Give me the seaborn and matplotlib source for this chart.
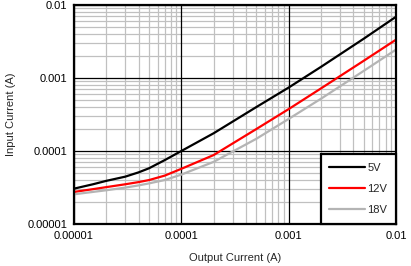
import numpy as np
import pandas as pd
import matplotlib
matplotlib.use("Agg")
import matplotlib.pyplot as plt
import seaborn as sns
from matplotlib.ticker import LogLocator, FixedLocator, FixedFormatter, NullFormatter

output_current = [1e-5, 1.5e-5, 2e-5, 3e-5, 4e-5, 5e-5, 7e-5, 1e-4, 2e-4, 5e-4, 1e-3, 2e-3, 5e-3, 1e-2]
input_5v = [3.05e-5, 3.5e-5, 3.9e-5, 4.45e-5, 5.1e-5, 5.8e-5, 7.5e-5, 1.0e-4, 1.75e-4, 4.0e-4, 7.4e-4, 1.42e-3, 3.45e-3, 6.9e-3]
input_12v = [2.75e-5, 3.0e-5, 3.2e-5, 3.5e-5, 3.75e-5, 4.0e-5, 4.6e-5, 5.7e-5, 8.8e-5, 2.0e-4, 3.75e-4, 7.2e-4, 1.72e-3, 3.35e-3]
input_18v = [2.55e-5, 2.75e-5, 2.9e-5, 3.15e-5, 3.38e-5, 3.6e-5, 4.0e-5, 4.75e-5, 7.1e-5, 1.47e-4, 2.75e-4, 5.2e-4, 1.25e-3, 2.45e-3]
series_names = ["5V", "12V", "18V"]
series_colors = ["#000000", "#ff0000", "#b4b4b4"]
tick_values = [1e-5, 1e-4, 1e-3, 1e-2]
tick_labels = ["0.00001", "0.0001", "0.001", "0.01"]

df = pd.DataFrame({
    "x": output_current * 3,
    "y": input_5v + input_12v + input_18v,
    "series": [series_names[0]] * len(output_current)
              + [series_names[1]] * len(output_current)
              + [series_names[2]] * len(output_current),
})

sns.set_style("white")
plt.rcParams["font.family"] = ["Liberation Sans", "DejaVu Sans"]

fig = plt.figure(figsize=(4.11, 2.66), dpi=100)
ax = fig.add_axes([74 / 411, 1 - 224 / 266, (396 - 74) / 411, (224 - 5) / 266])

ax.set_xscale("log")
ax.set_yscale("log")
ax.set_xlim(1e-5, 1e-2)
ax.set_ylim(1e-5, 1e-2)

ax.xaxis.set_major_locator(FixedLocator(tick_values))
ax.xaxis.set_major_formatter(FixedFormatter(tick_labels))
ax.yaxis.set_major_locator(FixedLocator(tick_values))
ax.yaxis.set_major_formatter(FixedFormatter(tick_labels))
ax.xaxis.set_minor_locator(LogLocator(base=10, subs=np.arange(2, 10)))
ax.yaxis.set_minor_locator(LogLocator(base=10, subs=np.arange(2, 10)))
ax.xaxis.set_minor_formatter(NullFormatter())
ax.yaxis.set_minor_formatter(NullFormatter())

ax.set_axisbelow(True)
ax.grid(True, which="minor", color="#c0c0c0", linewidth=0.9)
ax.grid(False, which="major")
for v in tick_values:
    ax.axvline(v, color="#000000", linewidth=0.9, zorder=1)
    ax.axhline(v, color="#000000", linewidth=0.9, zorder=1)

sns.lineplot(data=df, x="x", y="y", hue="series", hue_order=series_names,
             palette=series_colors, linewidth=1.6, ax=ax, legend=True, zorder=2)

ax.tick_params(which="both", length=0, labelsize=8, pad=5, colors="#000000")
for s in ax.spines.values():
    s.set_visible(True)
    s.set_color("#000000")
    s.set_linewidth(1.6)
    s.set_zorder(3)

ax.set_xlabel("Output Current (A)", fontsize=8, labelpad=9)
ax.set_ylabel("Input Current (A)", fontsize=8, labelpad=8)

leg = ax.legend(loc="lower right", borderaxespad=0, fancybox=False, fontsize=8,
                handlelength=3.2, handletextpad=0.2, labelspacing=1.0,
                borderpad=0.8, framealpha=1)
leg.get_frame().set_edgecolor("#000000")
leg.get_frame().set_linewidth(1.6)
leg.set_zorder(5)
for line in leg.get_lines():
    line.set_linewidth(1.6)

fig.savefig("out.png", dpi=100)
